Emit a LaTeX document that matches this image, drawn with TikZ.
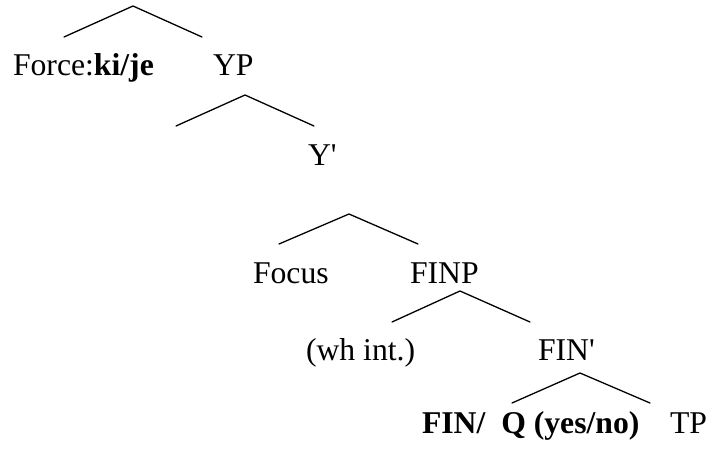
\documentclass[tikz,border=0pt]{standalone}
\usepackage{fontspec}
\setmainfont{Liberation Serif}
\begin{document}
\begin{tikzpicture}[x=1pt,y=-1pt,
  lbl/.style={anchor=base west,inner sep=0pt,outer sep=0pt,font=\fontsize{31.7}{36}\selectfont},
  branch/.style={line width=1.3pt,line cap=round}]
\useasboundingbox (0,0) rectangle (718,450);
% tree 1
\coordinate (a1) at (133,6); \coordinate (l1) at (64,37); \coordinate (r1) at (202,37);
\draw[branch] (l1) -- (a1) -- (r1);
\node[lbl] (force) at (13,75) {Force:\textbf{ki/je}};
\node[lbl] (yp) at (213,75) {YP};
% tree 2
\coordinate (a2) at (245,95); \coordinate (l2) at (176,126); \coordinate (r2) at (314,126);
\draw[branch] (l2) -- (a2) -- (r2);
\node[lbl] (ybar) at (308,165) {Y\textquotesingle};
% tree 3
\coordinate (a3) at (349,214); \coordinate (l3) at (279,244); \coordinate (r3) at (418,244);
\draw[branch] (l3) -- (a3) -- (r3);
\node[lbl] (focus) at (253,283) {Focus};
\node[lbl] (finp) at (410,283) {FINP};
% tree 4
\coordinate (a4) at (460,291); \coordinate (l4) at (392,322); \coordinate (r4) at (530,322);
\draw[branch] (l4) -- (a4) -- (r4);
\node[lbl] (wh) at (306,360) {(wh int.)};
\node[lbl] (finbar) at (538,360) {FIN\textquotesingle};
% tree 5
\coordinate (a5) at (580,373); \coordinate (l5) at (512,403); \coordinate (r5) at (650,403);
\draw[branch] (l5) -- (a5) -- (r5);
\node[lbl] (fin) at (422,433) {\textbf{FIN/\ \ Q (yes/no)}};
\node[lbl] (tp) at (670,433) {TP};
\end{tikzpicture}
\end{document}
